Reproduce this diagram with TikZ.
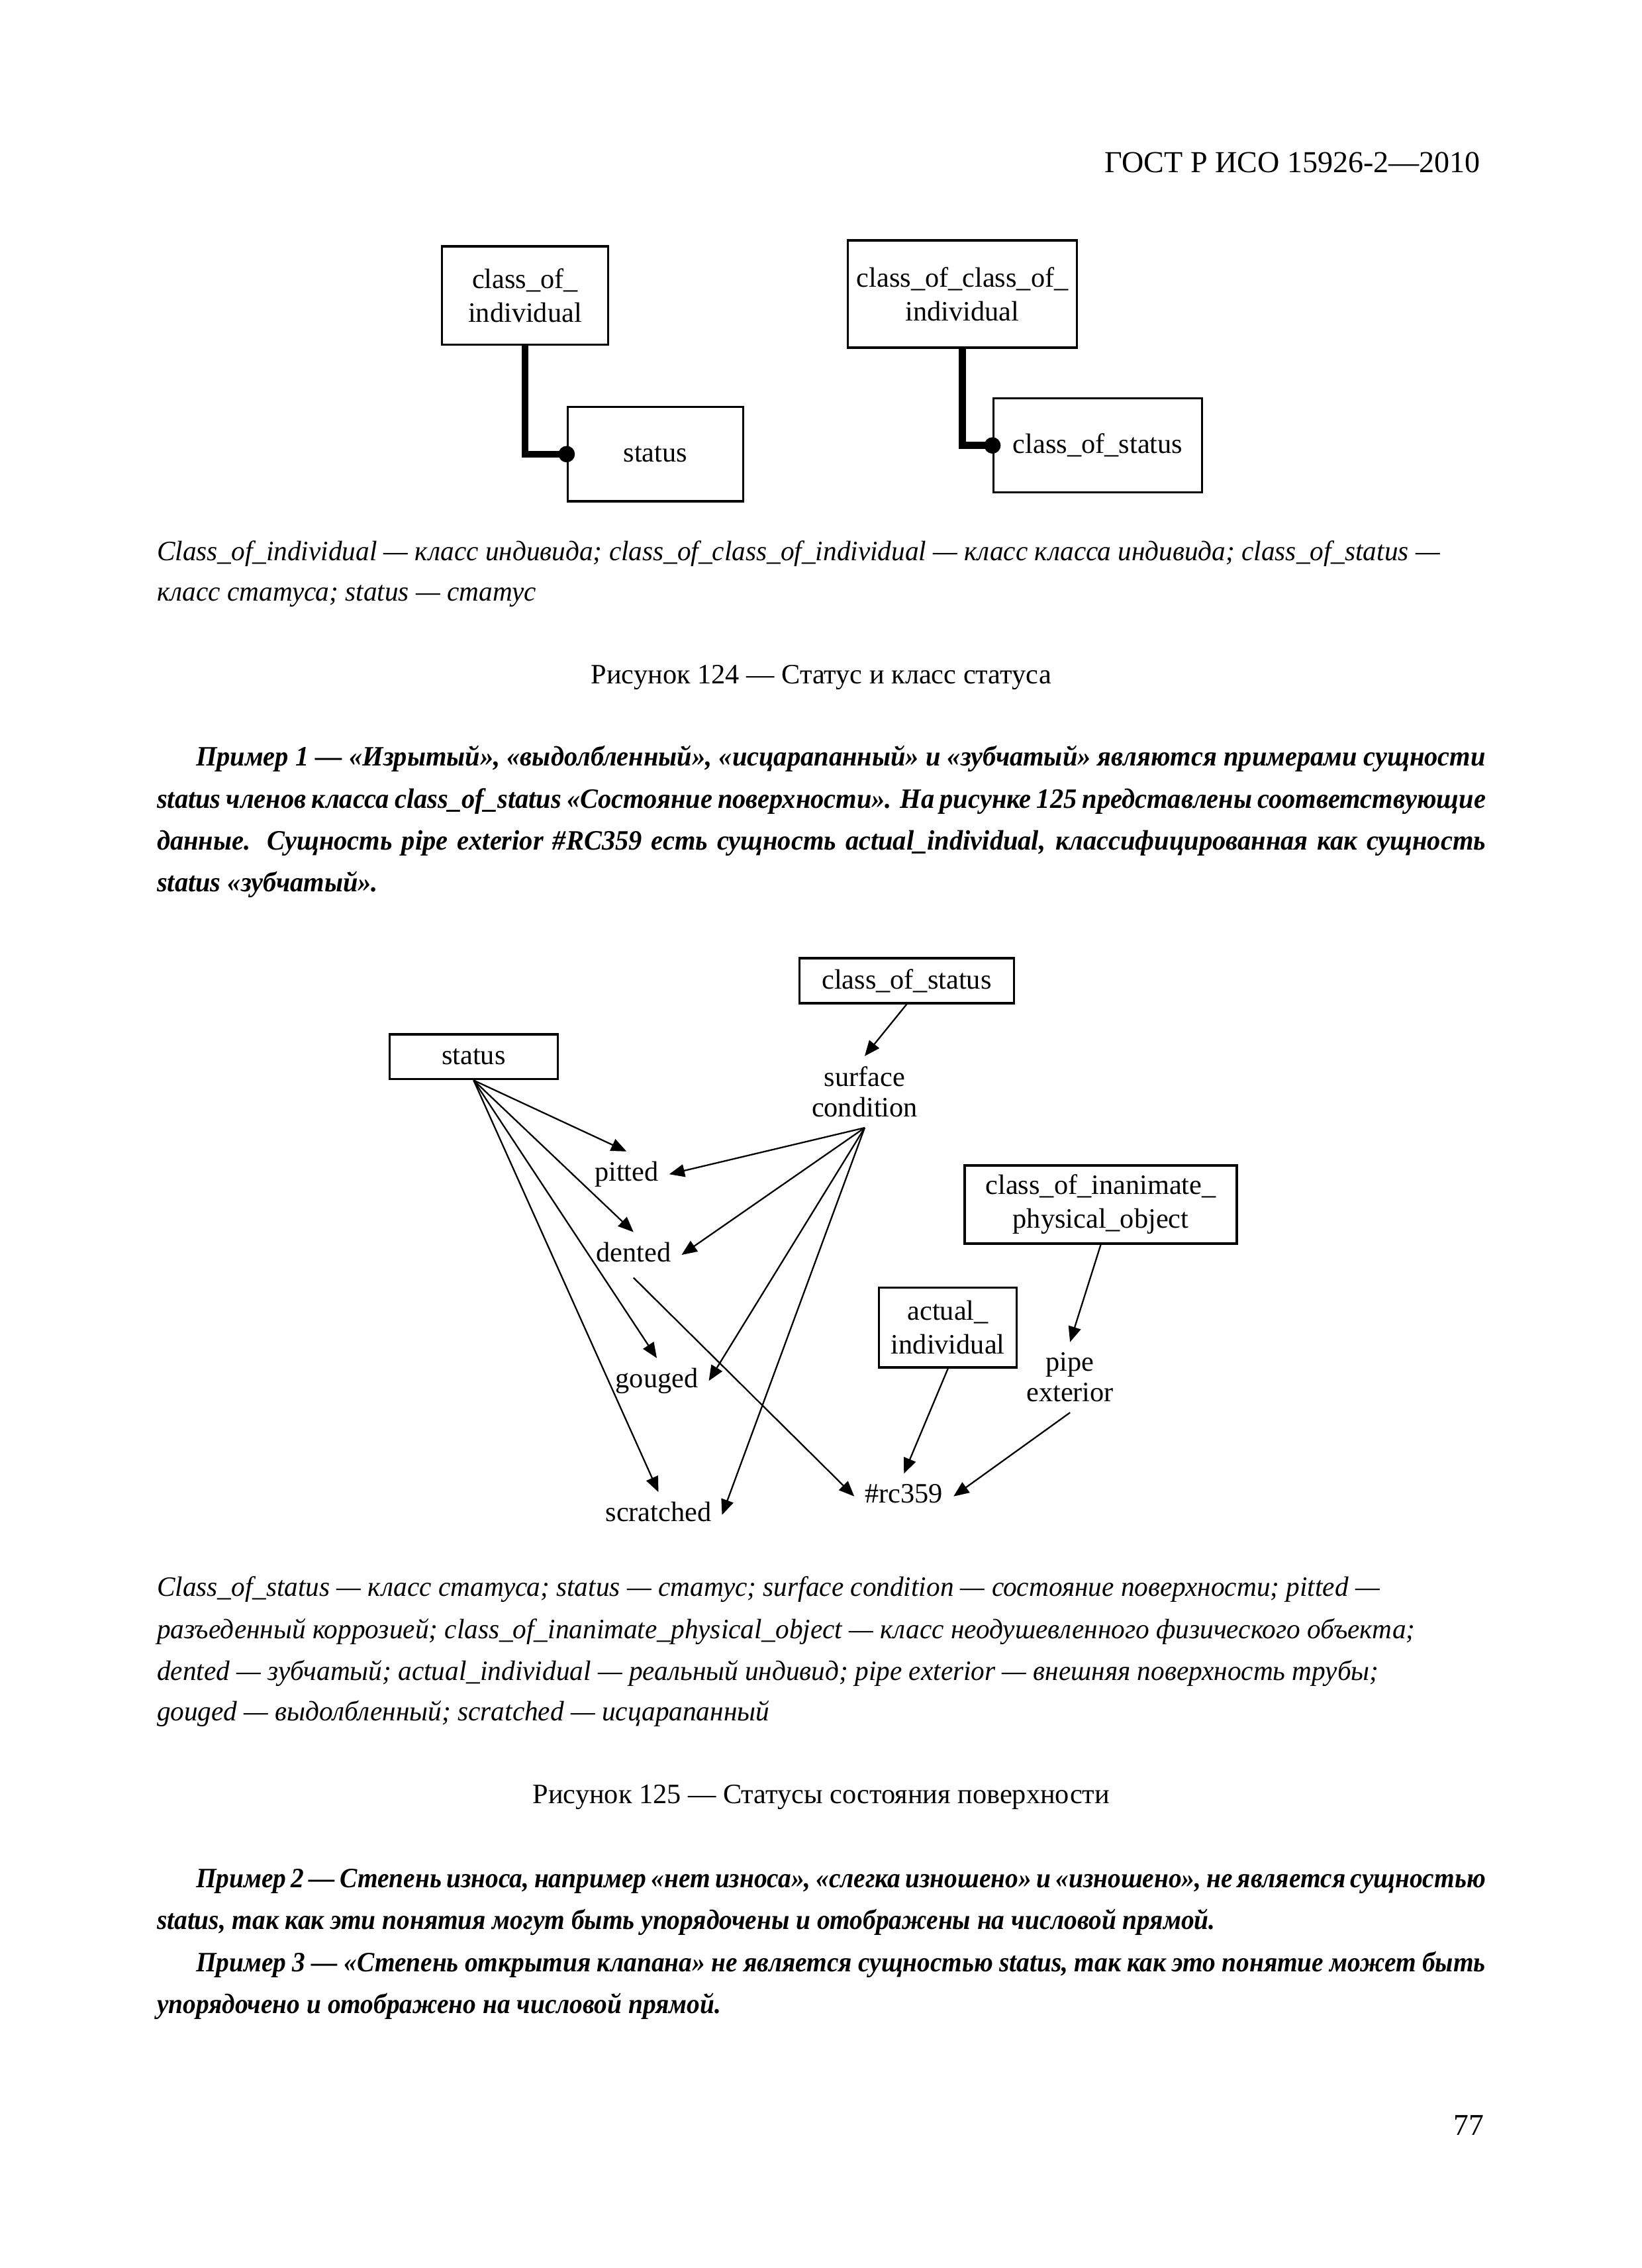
\documentclass[tikz,border=0pt]{standalone}
\usepackage{fontspec}
\setmainfont{Liberation Serif}
\newfontfamily\capfont[FakeStretch=0.975]{Liberation Serif}
\newfontfamily\exafont[FakeStretch=0.955]{Liberation Serif}
\newfontfamily\exbfont[FakeStretch=0.93]{Liberation Serif}
\usepackage{tikz}
\usetikzlibrary{arrows.meta,positioning}
\newcommand{\pu}{0.018523cm}
\newcommand{\bodyfont}{\fontsize{10.2}{15}\selectfont}
\newcommand{\jfull}[1]{\hbox to 16.993cm{#1}}
\newcommand{\jind}[1]{\hbox to 16.493cm{#1}}
\tikzstyle{bx}=[draw=black, line width=0.8pt, inner sep=1pt, align=center, font=\fontsize{10.2}{12.3}\selectfont]
\tikzstyle{lb}=[inner sep=3.7pt, align=center, font=\fontsize{10.2}{11}\selectfont]
\tikzstyle{lbs}=[lb, text height=0.68em, text depth=0.2em]
\tikzstyle{ln}=[anchor=base west, inner sep=0pt, font=\bodyfont]
\tikzstyle{lnc}=[anchor=base, inner sep=0pt, font=\bodyfont]
\tikzstyle{captx}=[ln, font=\bodyfont\capfont\itshape]
\tikzstyle{exatx}=[ln, font=\bodyfont\exafont\bfseries\itshape]
\tikzstyle{exbtx}=[ln, font=\bodyfont\exbfont\bfseries\itshape]

\begin{document}
\begin{tikzpicture}[x=0.018523cm, y=-0.018523cm, >={Triangle[length=5.6pt,width=4.6pt]}]
  \path[use as bounding box, fill=white] (0,0) rectangle (1133.7,1565.7);
%
  \node[ln, anchor=base east, font=\fontsize{11.1}{13}\selectfont] (hdr) at (1022.5,119) {ГОСТ Р ИСО 15926-2—2010};
%
  \node[bx, minimum width=115*\pu, minimum height=68*\pu] (coi) at (362.5,204) {class\_of\_\\individual};
  \node[bx, minimum width=121*\pu, minimum height=65*\pu] (sta) at (452.5,313.5) {status};
  \node[bx, minimum width=158*\pu, minimum height=74*\pu] (cocoi) at (664.5,203) {class\_of\_class\_of\_\\individual};
  \node[bx, minimum width=144*\pu, minimum height=65*\pu] (cos) at (758,307.5) {class\_of\_status};
%
  \draw[line width=2.5pt] (coi.south) |- (sta.west);
  \fill (sta.west) circle (0.105cm);
  \draw[line width=2.5pt] (cocoi.south) |- (cos.west);
  \fill (cos.west) circle (0.105cm);
%
  \node[captx] (capa1) at (108,387) {Class\_of\_individual — класс индивида; class\_of\_class\_of\_individual — класс класса индивида; class\_of\_status —};
  \node[captx] (capa2) at (108,415) {класс статуса; status — статус};
  \node[lnc] (figa) at (567,472) {Рисунок 124 — Статус и класс статуса};
%
  \node[exatx] (exa1) at (135,528.8) {\jind{Пример 1 — «Изрытый», «выдолбленный», «исцарапанный» и «зубчатый» являются примерами сущности}};
  \node[exatx] (exa2) at (108,557.7) {\jfull{status членов класса class\_of\_status «Состояние поверхности». На рисунке 125 представлены соответствующие}};
  \node[exatx] (exa3) at (108,586.5) {\jfull{данные. Сущность pipe exterior \#RC359 есть сущность actual\_individual, классифицированная как сущность}};
  \node[exatx] (exa4) at (108,615.4) {status «зубчатый».};
%
  \node[bx, minimum width=148*\pu, minimum height=31*\pu] (cos2) at (626,677) {class\_of\_status};
  \node[bx, minimum width=116*\pu, minimum height=31*\pu] (sta2) at (327,729.5) {status};
  \node[lb] (surf) at (597,753.8) {surface\\condition};
  \node[lbs] (pit) at (432.6,810.6) {pitted};
  \node[lbs] (den) at (437.4,866.3) {dented};
  \node[lbs] (gou) at (453.5,953.3) {gouged};
  \node[lbs] (scr) at (454.6,1045.8) {scratched};
  \node[bx, minimum width=188*\pu, minimum height=54*\pu] (coipo) at (760,831.5) {class\_of\_inanimate\_\\physical\_object};
  \node[bx, minimum width=95*\pu, minimum height=55*\pu] (act) at (654.5,916.5) {actual\_\\individual};
  \node[lb] (pipe) at (738.8,950.8) {pipe\\exterior};
  \node[lbs] (rc) at (624.1,1033) {\#rc359};
%
  \path[->, line width=0.55pt]
  (cos2.south) edge (surf.north)
  (sta2.south) edge (pit.north)
               edge (den.north)
               edge (gou.north)
               edge (scr.north)
  (surf.south) edge (pit.east)
               edge (den.east)
               edge (gou.east)
               edge (scr.east)
  (den.south) edge (rc.west)
  (act.south) edge (rc.north)
  (coipo.south) edge (pipe.north)
  (pipe.south) edge (rc.east);
%
  \node[captx] (capb1) at (108,1102) {Class\_of\_status — класс статуса; status — статус; surface condition — состояние поверхности; pitted —};
  \node[captx] (capb2) at (108,1131) {разъеденный коррозией; class\_of\_inanimate\_physical\_object — класс неодушевленного физического объекта;};
  \node[captx] (capb3) at (108,1160) {dented — зубчатый; actual\_individual — реальный индивид; pipe exterior — внешняя поверхность трубы;};
  \node[captx] (capb4) at (108,1188) {gouged — выдолбленный; scratched — исцарапанный};
  \node[lnc] (figb) at (567,1245) {Рисунок 125 — Статусы состояния поверхности};
%
  \node[exbtx] (exb1) at (135,1303) {\jind{Пример 2 — Степень износа, например «нет износа», «слегка изношено» и «изношено», не является сущностью}};
  \node[exbtx] (exb2) at (108,1332) {status, так как эти понятия могут быть упорядочены и отображены на числовой прямой.};
  \node[exbtx] (exc1) at (135,1361) {\jind{Пример 3 — «Степень открытия клапана» не является сущностью status, так как это понятие может быть}};
  \node[exbtx] (exc2) at (108,1390) {упорядочено и отображено на числовой прямой.};
%
  \node[ln, anchor=base east, font=\fontsize{11}{13}\selectfont] (pgno) at (1025,1474) {77};
\end{tikzpicture}
\end{document}
